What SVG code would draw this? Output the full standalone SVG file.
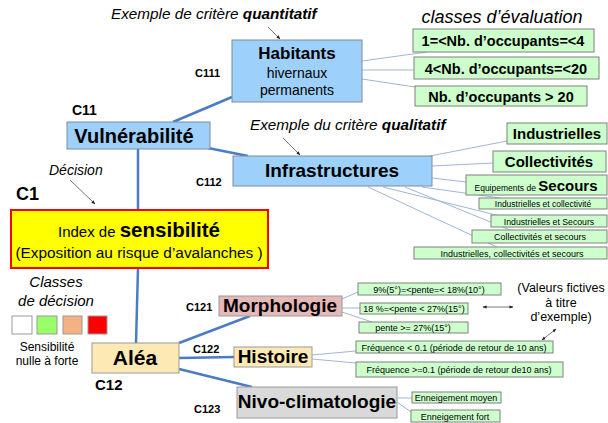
<svg xmlns="http://www.w3.org/2000/svg" width="608" height="423" viewBox="0 0 608 423">
<style>
text{font-family:"Liberation Sans",Arial,sans-serif;fill:#000}
.b{font-weight:bold}
.i{font-style:italic}
.blue{fill:#9dd0fb;stroke:#7f8c99;stroke-width:1}
.grn{fill:#ccffcc;stroke:#808080;stroke-width:1}
.thick{stroke:#4a7cc4;stroke-width:2.5;fill:none}
.thin{stroke:#9fb6d6;stroke-width:1;fill:none}
.ann{stroke:#555;stroke-width:0.8;fill:none}
.m{text-anchor:middle}
</style>
<defs>
<marker id="ah" viewBox="0 0 10 10" refX="9" refY="5" markerWidth="5" markerHeight="5" orient="auto-start-reverse"><path d="M0,1 L10,5 L0,9 z" fill="#222"/></marker>
</defs>
<g id="connectors">
<path class="thick" d="M232,97 L173,122"/>
<path class="thick" d="M208,148 L248,156"/>
<path class="thick" d="M138,148 L138,210"/>
<path class="thick" d="M138,268 L136,343"/>
<path class="thick" d="M179,343 L250,316"/>
<path class="thick" d="M179,358 L234,357"/>
<path class="thick" d="M179,369 L252,387"/>
<path class="thin" d="M362,61 L427,52"/>
<path class="thin" d="M362,70 L414,70"/>
<path class="thin" d="M362,79 L415,87"/>
<path class="thin" d="M430,156 L507,141"/>
<path class="thin" d="M432,166 L493,163"/>
<path class="thin" d="M432,178 L466,182"/>
<path class="thin" d="M422,187 L500,198"/>
<path class="thin" d="M383,187 L500,216"/>
<path class="thin" d="M405,187 L510,230"/>
<path class="thin" d="M368,187 L497,247"/>
<path class="thin" d="M342,299 L358,292"/>
<path class="thin" d="M342,308 L360,308"/>
<path class="thin" d="M342,312 L372,322"/>
<path class="thin" d="M312,355 L356,351"/>
<path class="thin" d="M312,359 L356,363"/>
<path class="thin" d="M397,398 L412,398"/>
<path class="thin" d="M397,402 L411,412"/>
<path class="ann" d="M268,27 L280,39" marker-end="url(#ah)"/>
<path class="ann" d="M283,138 L300,155" marker-end="url(#ah)"/>
<path class="ann" d="M70,180 L95,204" marker-end="url(#ah)"/>
<path class="ann" d="M483,307 L513,307" marker-start="url(#ah)" marker-end="url(#ah)"/>
<path class="ann" d="M542,340 L556,329" marker-start="url(#ah)" marker-end="url(#ah)"/>
</g>
<g id="labels">
<text x="111" y="19" font-size="15.3" class="i">Exemple de critère <tspan class="b">quantitatif</tspan></text>
<text x="502" y="23" font-size="18" class="i m">classes d’évaluation</text>
<text x="195" y="77" font-size="11" class="b">C111</text>
<text x="72" y="115" font-size="14" class="b">C11</text>
<text x="250" y="130" font-size="15.3" class="i">Exemple du critère <tspan class="b">qualitatif</tspan></text>
<text x="196" y="186" font-size="11" class="b">C112</text>
<text x="49" y="175" font-size="14" class="i">Décision</text>
<text x="16" y="200" font-size="18" class="b">C1</text>
<text x="56" y="287" font-size="15" class="i m">Classes</text>
<text x="56" y="306" font-size="15" class="i m">de décision</text>
<text x="47" y="351" font-size="12" class="m">Sensibilité</text>
<text x="47" y="365" font-size="12" class="m">nulle à forte</text>
<text x="95" y="390" font-size="15" class="b">C12</text>
<text x="186" y="311" font-size="11" class="b">C121</text>
<text x="193" y="353" font-size="11" class="b">C122</text>
<text x="194" y="413" font-size="11" class="b">C123</text>
<text x="561" y="292" font-size="12.5" class="m">(Valeurs fictives</text>
<text x="561" y="307" font-size="12.5" class="m">à titre</text>
<text x="561" y="321" font-size="12.5" class="m">d’exemple)</text>
</g>
<g id="legend">
<rect x="12" y="316" width="20" height="18" fill="#fff" stroke="#999"/>
<rect x="37" y="316" width="20" height="18" fill="#99ff66" stroke="#999"/>
<rect x="63" y="316" width="19" height="18" fill="#f4b183" stroke="#999"/>
<rect x="88" y="316" width="19" height="18" fill="#ff0000" stroke="#999"/>
</g>
<g id="habitants">
<rect class="blue" x="232" y="40" width="130" height="62"/>
<text x="297" y="59" font-size="17" class="b m">Habitants</text>
<text x="297" y="78" font-size="14" class="m">hivernaux</text>
<text x="297" y="95" font-size="14" class="m">permanents</text>
</g>
<g id="hab-c1"><rect class="grn" x="413" y="29" width="181" height="23"/><text x="503" y="46" font-size="14.5" class="b m">1=&lt;Nb. d’occupants=&lt;4</text></g>
<g id="hab-c2"><rect class="grn" x="414" y="57" width="185" height="22"/><text x="506" y="74" font-size="14.5" class="b m">4&lt;Nb. d’occupants=&lt;20</text></g>
<g id="hab-c3"><rect class="grn" x="415" y="86" width="172" height="20"/><text x="501" y="102" font-size="14.5" class="b m">Nb. d’occupants &gt; 20</text></g>
<g id="vulnerabilite">
<rect class="blue" x="67" y="122" width="143" height="27"/>
<text x="134" y="143" font-size="20" class="b m">Vulnérabilité</text>
</g>
<g id="infrastructures">
<rect class="blue" x="233" y="156" width="199" height="30"/>
<text x="332" y="177" font-size="19" class="b m">Infrastructures</text>
</g>
<g id="inf-c1"><rect class="grn" x="507" y="123" width="100" height="21"/><text x="557" y="139" font-size="15" class="b m">Industrielles</text></g>
<g id="inf-c2"><rect class="grn" x="493" y="151" width="113" height="21"/><text x="549" y="167" font-size="15" class="b m">Collectivités</text></g>
<g id="inf-c3"><rect class="grn" x="466" y="175" width="141" height="20"/><text x="536" y="191" class="m"><tspan font-size="8.5">Equipements de </tspan><tspan font-size="15" class="b">Secours</tspan></text></g>
<g id="inf-c4"><rect class="grn" x="479" y="198" width="128" height="11"/><text x="543" y="207" font-size="8.5" class="m">Industrielles et collectivité</text></g>
<g id="inf-c5"><rect class="grn" x="491" y="215" width="116" height="12"/><text x="549" y="224.5" font-size="8.7" class="m">Industrielles et Secours</text></g>
<g id="inf-c6"><rect class="grn" x="472" y="230" width="135" height="13"/><text x="540" y="240" font-size="9" class="m">Collectivités et  secours</text></g>
<g id="inf-c7"><rect class="grn" x="414" y="247" width="193" height="12"/><text x="512" y="256.5" font-size="9" class="m">Industrielles, collectivités et secours</text></g>
<g id="index">
<rect x="11" y="210" width="257" height="58" fill="#ffff00" stroke="#ff0000" stroke-width="2"/>
<text x="139" y="237" class="m"><tspan font-size="15">Index de </tspan><tspan font-size="20.5" class="b">sensibilité</tspan></text>
<text x="139" y="258" font-size="15.4" class="m">(Exposition au risque d’avalanches )</text>
</g>
<g id="alea">
<rect x="92" y="343" width="87" height="30" fill="#fde9b3" stroke="#999"/>
<text x="135" y="365" font-size="21" class="b m">Aléa</text>
</g>
<g id="morphologie">
<rect x="219" y="296" width="123" height="20" fill="#e6b8b7" stroke="#999"/>
<text x="280" y="312" font-size="19" class="b m">Morphologie</text>
</g>
<g id="mor-c1"><rect class="grn" x="358" y="283" width="143" height="12"/><text x="429" y="292.5" font-size="9" class="m">9%(5°)=&lt;pente=&lt; 18%(10°)</text></g>
<g id="mor-c2"><rect class="grn" x="360" y="303" width="108" height="11"/><text x="414" y="312" font-size="9" class="m">18 %=&lt;pente &lt; 27%(15°)</text></g>
<g id="mor-c3"><rect class="grn" x="359" y="322" width="109" height="11"/><text x="413" y="331" font-size="9" class="m">pente &gt;= 27%(15°)</text></g>
<g id="histoire">
<rect x="234" y="347" width="78" height="20" fill="#fde9b3" stroke="#999"/>
<text x="273" y="363" font-size="19" class="b m">Histoire</text>
</g>
<g id="his-c1"><rect class="grn" x="356" y="341" width="197" height="12"/><text x="454" y="350.5" font-size="9" class="m">Fréquence &lt; 0.1 (période de retour de 10 ans)</text></g>
<g id="his-c2"><rect class="grn" x="356" y="362" width="207" height="15"/><text x="459" y="373" font-size="9" class="m">Fréquence &gt;=0.1 (période de retour de10 ans)</text></g>
<g id="nivo">
<rect x="237" y="387" width="160" height="31" fill="#d9d9d9" stroke="#999"/>
<text x="317" y="408" font-size="19" class="b m">Nivo-climatologie</text>
</g>
<g id="niv-c1"><rect class="grn" x="412" y="392" width="89" height="11"/><text x="456" y="401" font-size="9" class="m">Enneigement moyen</text></g>
<g id="niv-c2"><rect class="grn" x="411" y="410" width="89" height="12"/><text x="455" y="419.5" font-size="9" class="m">Enneigement fort</text></g>
</svg>
